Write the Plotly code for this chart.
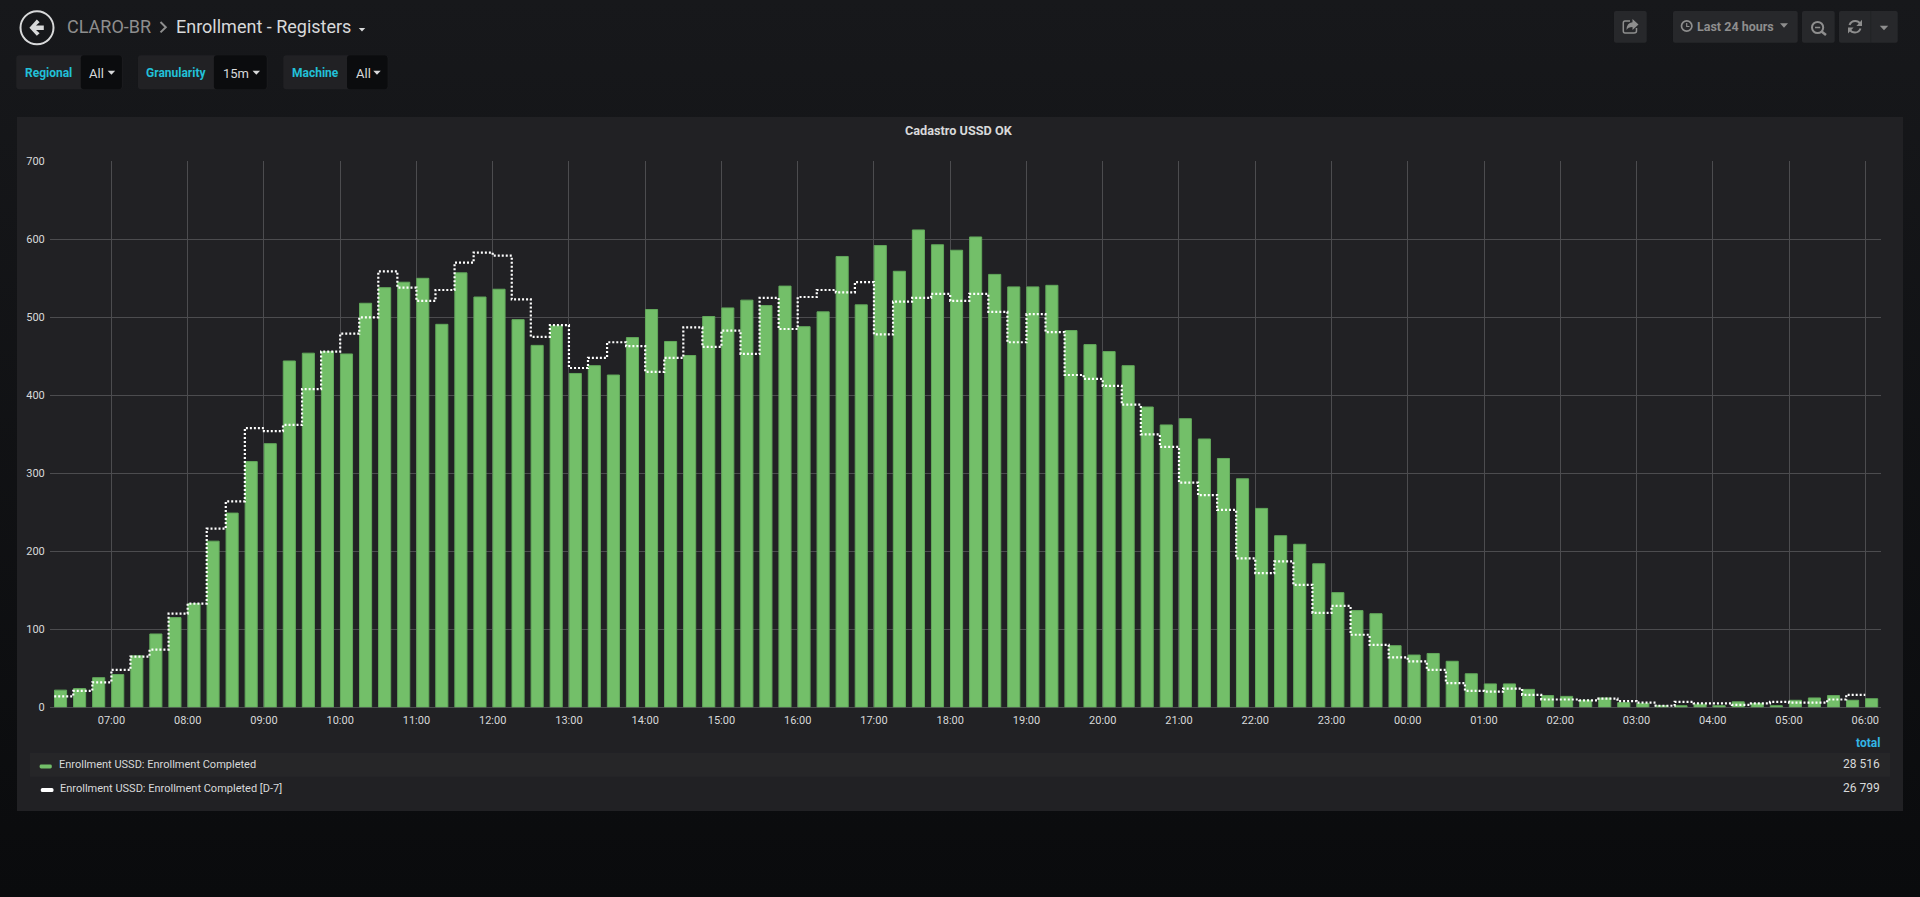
import pandas as pd
import plotly.graph_objects as go

W, H = 1920, 897

# Data (15 minute buckets, 06:15 -> 06:00 next day)
completed = [22, 24, 38, 42, 66, 94, 115, 133, 213, 249, 315, 338, 444, 454, 456, 453,
             518, 538, 545, 550, 491, 557, 526, 536, 497, 464, 489, 428, 438, 426, 474, 510,
             469, 451, 501, 512, 522, 515, 540, 488, 507, 578, 516, 592, 559, 612, 593, 586,
             603, 555, 539, 539, 541, 483, 465, 456, 438, 385, 362, 370, 344, 319, 293, 255,
             220, 209, 184, 147, 124, 120, 79, 67, 69, 59, 43, 30, 30, 23, 15, 14,
             9, 12, 6, 5, 2, 2, 4, 2, 7, 5, 2, 9, 12, 15, 9, 11]
completed_d7 = [14, 21, 32, 48, 65, 74, 120, 133, 229, 264, 358, 354, 362, 408, 456, 479,
                500, 559, 538, 521, 535, 570, 583, 579, 523, 475, 490, 435, 448, 468, 463, 430,
                448, 487, 462, 483, 453, 525, 485, 526, 535, 532, 545, 478, 520, 525, 530, 521,
                530, 507, 468, 504, 481, 426, 421, 412, 388, 350, 334, 288, 272, 253, 191, 172,
                187, 157, 121, 130, 93, 80, 64, 59, 48, 31, 21, 20, 24, 16, 10, 10,
                9, 11, 8, 6, 2, 7, 5, 5, 3, 5, 7, 6, 6, 10, 16, 16]
times = pd.date_range("2018-06-01 06:15", periods=96, freq="15min")
series_names = ["Enrollment USSD: Enrollment Completed", "Enrollment USSD: Enrollment Completed [D-7]"]
series_totals = ["28 516", "26 799"]

# Colours
PANEL = "#212124"
TEXT = "#d8d9da"
GREY = "#8e8e8e"
GREEN = "#73bf69"
CYAN = "#22c0d8"
BLUE = "#33b5e5"
GRID = "#4c4c4f"
BUTTON = "#27282b"


def fx(x):
    return x / W


def fy(y):
    return 1 - y / H


def path(*parts):
    # parts are ("M", x, y) style tuples in page pixels
    out = []
    for part in parts:
        cmd, nums = part[0], part[1:]
        pts = [f"{fx(nums[i]):.5f},{fy(nums[i + 1]):.5f}" for i in range(0, len(nums), 2)]
        out.append(cmd + " ".join(pts))
    return " ".join(out)


shapes = []
annotations = []


def rect(x0, y0, x1, y1, color, r=0):
    if r:
        d = path(("M", x0 + r, y0), ("L", x1 - r, y0), ("Q", x1, y0, x1, y0 + r), ("L", x1, y1 - r),
                 ("Q", x1, y1, x1 - r, y1), ("L", x0 + r, y1), ("Q", x0, y1, x0, y1 - r),
                 ("L", x0, y0 + r), ("Q", x0, y0, x0 + r, y0)) + " Z"
        shapes.append(dict(type="path", xref="paper", yref="paper", path=d, fillcolor=color,
                           line_width=0, layer="below"))
    else:
        shapes.append(dict(type="rect", xref="paper", yref="paper", x0=fx(x0), x1=fx(x1), y0=fy(y0), y1=fy(y1),
                           fillcolor=color, line_width=0, layer="below"))


def stroke(d, color=GREY, width=2):
    shapes.append(dict(type="path", xref="paper", yref="paper", path=d, line=dict(color=color, width=width)))


def fill(d, color=GREY):
    shapes.append(dict(type="path", xref="paper", yref="paper", path=d, fillcolor=color, line_width=0))


def ring(cx, cy, r, color=GREY, width=2):
    shapes.append(dict(type="circle", xref="paper", yref="paper", x0=fx(cx - r), x1=fx(cx + r),
                       y0=fy(cy - r), y1=fy(cy + r), line=dict(color=color, width=width)))


def caret(x, y, w, h, color=TEXT):
    fill(path(("M", x - w / 2, y - h / 2), ("L", x + w / 2, y - h / 2), ("L", x, y + h / 2)) + " Z", color)


def label(x, y, s, size=12, color=TEXT, anchor="left", family="Roboto"):
    annotations.append(dict(xref="paper", yref="paper", x=fx(x), y=fy(y), text=s, showarrow=False,
                            xanchor=anchor, yanchor="middle", borderpad=0, borderwidth=0,
                            font=dict(family=family, size=size, color=color)))


# Panel
rect(17, 117, 1903, 811, PANEL)

# Header
ring(37, 27.8, 16.5, TEXT, 2)
fill(path(("M", 29.4, 27.7), ("L", 36.8, 19.6), ("L", 39.6, 22.2), ("L", 36, 25.4), ("L", 43.8, 25.4),
          ("L", 43.8, 30), ("L", 36, 30), ("L", 39.6, 33.2), ("L", 36.8, 35.8)) + " Z", TEXT)
label(67, 27, "CLARO-BR", 18, GREY)
stroke(path(("M", 160.5, 22), ("L", 165.8, 27.2), ("L", 160.5, 32.4)), GREY, 2)
label(175.5, 27, "Enrollment - Registers", 18, TEXT)
caret(362, 29.8, 6.5, 3.5, TEXT)

# Template variables
for x0, x1, x2, name, value, value_x, caret_x in [
    (16.3, 80.8, 122.4, "Regional", "All", 89.4, 111.4),
    (138, 213.9, 267.3, "Granularity", "15m", 222.9, 256.3),
    (283.3, 347, 388.2, "Machine", "All", 355.5, 377),
]:
    rect(x0, 55.3, x2, 89.3, PANEL, 3)
    rect(x1, 55.3, x2 - 0.5, 89.3, "#0b0c0e", 3)
    label((x0 + x1) / 2, 72.6, "<b>" + name + "</b>", 12, CYAN, "center")
    label(value_x, 73, value, 13, TEXT)
    caret(caret_x, 72.7, 7.5, 4, TEXT)

# Top right buttons
rect(1614, 11, 1646.7, 42.7, BUTTON, 2)
rect(1673, 11, 1797.7, 42.7, BUTTON, 2)
rect(1802, 11, 1834.7, 42.7, BUTTON, 2)
rect(1839, 11, 1897.7, 42.7, BUTTON, 2)
rect(1870.5, 11, 1871.2, 42.7, "#1f2023")
stroke(path(("M", 1630, 21), ("L", 1625, 21), ("Q", 1623.3, 21, 1623.3, 23), ("L", 1623.3, 31), ("Q", 1623.3, 33, 1625, 33),
            ("L", 1634, 33), ("Q", 1636.5, 33, 1636.5, 31), ("L", 1636.5, 28)), GREY, 1.5)
fill(path(("M", 1632.5, 19), ("L", 1638.5, 24.5), ("L", 1632.5, 30), ("L", 1632.5, 27), ("Q", 1628, 27, 1626.5, 30),
          ("Q", 1626.5, 23, 1632.5, 22.3)) + " Z", GREY)
ring(1686.7, 26, 5.2, GREY, 1.7)
stroke(path(("M", 1686.7, 23), ("L", 1686.7, 26.5), ("L", 1689.5, 26.5)), GREY, 1.2)
label(1696.5, 26.5, "<b>Last 24 hours</b>", 12.5, GREY)
caret(1784, 25.5, 8, 4.5, GREY)
ring(1817.6, 27.5, 5.6, GREY, 2)
stroke(path(("M", 1815, 27.5), ("L", 1820.2, 27.5)), GREY, 1.5)
stroke(path(("M", 1821.5, 31.5), ("L", 1826, 35)), GREY, 2.5)
stroke(path(("M", 1849.5, 25), ("Q", 1851, 21, 1855.2, 21), ("Q", 1858.5, 21, 1860, 23.5)), GREY, 2)
fill(path(("M", 1862, 19.8), ("L", 1862, 26), ("L", 1856.4, 26)) + " Z", GREY)
stroke(path(("M", 1860.5, 28.5), ("Q", 1859, 32.5, 1855, 32.5), ("Q", 1851.5, 32.5, 1850, 30)), GREY, 2)
fill(path(("M", 1848, 33.6), ("L", 1848, 27.5), ("L", 1853.6, 27.5)) + " Z", GREY)
caret(1884, 28, 8.5, 4.5, GREY)

# Title and legend table
label(959, 130.5, "<b>Cadastro USSD OK</b>", 12.7, TEXT, "center")
label(1880, 742.5, "<b>total</b>", 12, BLUE, "right")
rect(29.8, 752.7, 1890, 776.7, "#262628")
rect(39.6, 764.5, 51.8, 768.5, GREEN, 1.5)
rect(40.8, 788, 53.5, 792, "#ffffff", 1.5)
label(58.8, 764, series_names[0], 11, TEXT)
label(60, 788, series_names[1], 11, TEXT)
label(1880, 764.3, series_totals[0], 12, TEXT, "right")
label(1880, 788.3, series_totals[1], 12, TEXT, "right")

fig = go.Figure()
fig.add_trace(go.Bar(
    x=times,
    y=completed,
    name=series_names[0],
    width=15 * 60 * 1000 * 0.635,
    offset=15 * 60 * 1000 * 0.015,
    marker=dict(color=GREEN, line=dict(color="#62a85b", width=1)),
))
fig.add_trace(go.Scatter(
    x=times,
    y=completed_d7,
    name=series_names[1],
    mode="lines",
    line=dict(color="#ffffff", width=2.2, dash="2px,2px", shape="hv"),
))

axis_font = dict(family="Roboto", size=11, color=TEXT)
fig.update_layout(
    width=W,
    height=H,
    margin=dict(l=0, r=0, t=0, b=0, autoexpand=False),
    paper_bgcolor="rgba(0,0,0,0)",
    plot_bgcolor="rgba(0,0,0,0)",
    showlegend=False,
    shapes=shapes,
    annotations=annotations,
    xaxis=dict(
        domain=[fx(49.8), fx(1880.7)],
        type="date",
        range=["2018-06-01 06:11:32", "2018-06-02 06:12:07"],
        tick0="2018-06-01 07:00",
        dtick=3600000,
        tickformat="%H:%M",
        ticklabelstandoff=5,
        showgrid=True,
        gridcolor=GRID,
        gridwidth=1,
        showline=False,
        zeroline=False,
        ticks="",
        tickfont=axis_font,
    ),
    yaxis=dict(
        domain=[fy(707.3), fy(161.3)],
        range=[0, 700],
        dtick=100,
        ticklabelstandoff=4,
        showgrid=True,
        gridcolor=GRID,
        gridwidth=1,
        zeroline=True,
        zerolinecolor=GRID,
        zerolinewidth=1,
        ticks="",
        tickfont=axis_font,
    ),
)

page_css = """
document.body.style.margin = '0';
document.body.style.overflow = 'hidden';
document.documentElement.style.background = 'linear-gradient(#17181b, #0a0b0d)';
document.documentElement.style.height = '100%';
document.body.style.background = 'transparent';
"""
fig.write_html("out.html", post_script=page_css, config=dict(displayModeBar=False))
